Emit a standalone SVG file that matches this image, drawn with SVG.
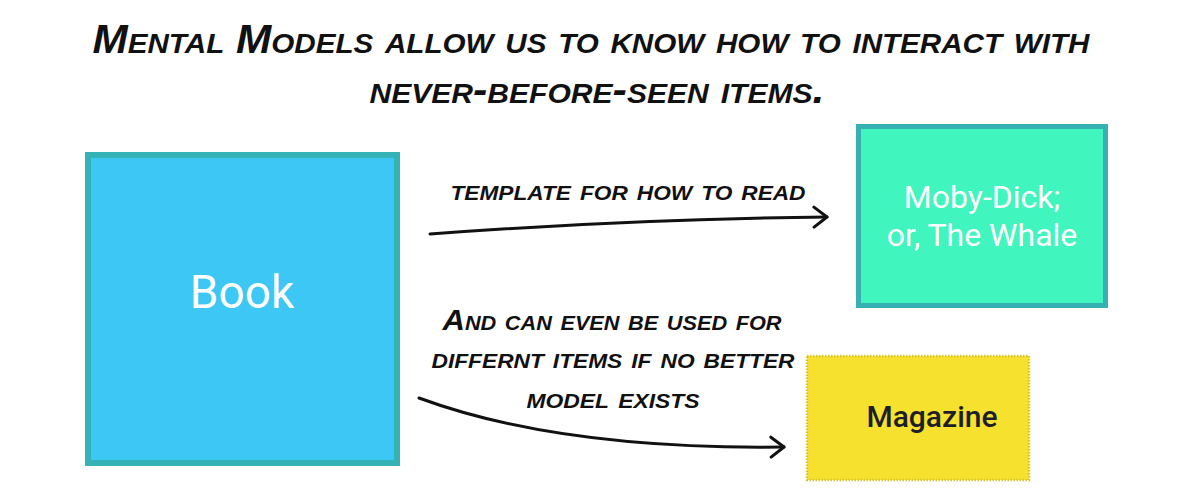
<svg xmlns="http://www.w3.org/2000/svg" width="1200" height="500" viewBox="0 0 1200 500">
<style>
.hand{font-family:"Liberation Sans",Arial,sans-serif;font-weight:bold;font-style:italic;font-variant:small-caps;fill:#111;text-anchor:middle}
.title{font-size:40px}
.lbl{font-size:30px}
.node{font-family:Roboto,"Liberation Sans",sans-serif;text-anchor:middle}
.conn{fill:none;stroke:#111;stroke-width:3;stroke-linecap:round}
</style>
<defs>
<marker id="chev" viewBox="0 0 20 24" refX="16" refY="12" markerWidth="20" markerHeight="24" markerUnits="userSpaceOnUse" orient="auto">
<path d="M3,2 L16,12 L3,22" fill="none" stroke="#111" stroke-width="3" stroke-linecap="round" stroke-linejoin="round"/>
</marker>
</defs>
<rect width="1200" height="500" fill="#fff"/>
<g id="title">
<text class="hand title" x="591" y="53" textLength="997" lengthAdjust="spacingAndGlyphs">Mental Models allow us to know how to interact with</text>
<text class="hand title" x="597" y="103" textLength="455" lengthAdjust="spacingAndGlyphs">never-before-seen items.</text>
</g>
<g id="book">
<rect x="88" y="155" width="309" height="308" fill="#3cc7f5" stroke="#35b2b5" stroke-width="6"/>
<text class="node" x="242" y="308" font-size="46" fill="#fff">Book</text>
</g>
<g id="moby">
<rect x="858.5" y="126.5" width="247" height="179" fill="#40f5be" stroke="#36b0b0" stroke-width="5"/>
<text class="node" x="982" y="208" font-size="32" fill="#fff">Moby-Dick;</text>
<text class="node" x="982" y="246" font-size="32" fill="#fff">or, The Whale</text>
</g>
<g id="magazine">
<rect x="807" y="356" width="222" height="124" fill="#f6e22e" stroke="#d6c42c" stroke-width="2.5" stroke-dasharray="1.5 1.5"/>
<text class="node" x="932" y="427" font-size="30" font-weight="500" fill="#1e1e2a">Magazine</text>
</g>
<g id="connectors">
<path class="conn" d="M430,234 Q630,219 827,217" marker-end="url(#chev)"/>
<text class="hand lbl" x="628" y="200" textLength="355" lengthAdjust="spacingAndGlyphs">template for how to read</text>
<path class="conn" d="M419,398 Q560,450 784,447" marker-end="url(#chev)"/>
<text class="hand lbl" x="612" y="330" textLength="339" lengthAdjust="spacingAndGlyphs">And can even be used for</text>
<text class="hand lbl" x="613" y="368" textLength="363" lengthAdjust="spacingAndGlyphs">differnt items if no better</text>
<text class="hand lbl" x="613" y="408" textLength="173" lengthAdjust="spacingAndGlyphs">model exists</text>
</g>
</svg>
